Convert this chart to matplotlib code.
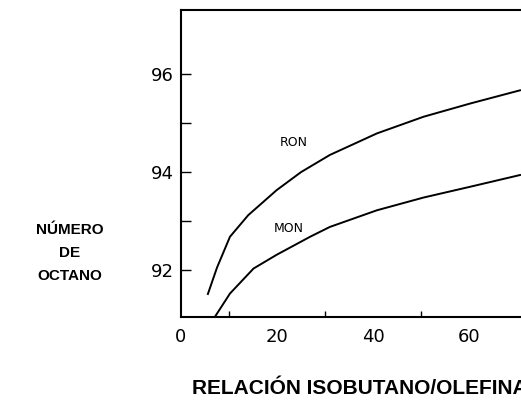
import matplotlib.pyplot as plt

# RON / MON curves
ron_x = [5.6, 7.5, 10.2, 14.0, 19.9, 25.0, 31.0, 40.8, 50.5, 60.2, 70.6]
ron_y = [91.51, 92.05, 92.68, 93.12, 93.63, 94.00, 94.35, 94.79, 95.13, 95.40, 95.67]
mon_x = [7.1, 10.2, 15.1, 19.9, 26.9, 31.0, 40.8, 50.5, 60.2, 70.6]
mon_y = [91.05, 91.52, 92.03, 92.31, 92.68, 92.88, 93.22, 93.48, 93.70, 93.94]

ytick_vals = [92, 93, 94, 95, 96]
ytick_labels = ['92', '', '94', '', '96']
xtick_vals = [0, 20, 40, 60]
xminor_vals = [10, 30, 40, 50, 60]

plt.rcParams['font.family'] = ['Liberation Sans', 'DejaVu Sans']

fig = plt.figure(figsize=(5.21, 4.04), dpi=100)
ax = fig.add_axes([0.3474, 0.2153, 0.6526, 0.7599])

ax.plot(ron_x, ron_y, color='black', lw=1.4)
ax.plot(mon_x, mon_y, color='black', lw=1.4)

ax.text(23.5, 94.6, 'RON', fontsize=9, family='DejaVu Sans', ha='center', va='center')
ax.text(22.5, 92.85, 'MON', fontsize=9, family='DejaVu Sans', ha='center', va='center')

ax.set_xlim(0, 70.8)
ax.set_ylim(91.04, 97.31)

ax.set_yticks(ytick_vals)
ax.set_yticklabels(ytick_labels, family='DejaVu Sans')
ax.set_xticks(xtick_vals)
ax.set_xticklabels([str(v) for v in xtick_vals], family='DejaVu Sans')
ax.set_xticks(xminor_vals, minor=True)
ax.tick_params(axis='y', direction='in', length=7, width=1, pad=5, labelsize=13)
ax.tick_params(axis='x', which='major', length=0, pad=8, labelsize=13)
ax.tick_params(axis='x', which='minor', direction='in', length=4, width=1)

for side in ['left', 'bottom', 'top']:
    ax.spines[side].set_linewidth(1.5)
ax.spines['right'].set_visible(False)

fig.text(70 / 521, 1 - 253 / 404, 'NÚMERO\nDE\nOCTANO', fontsize=11, fontweight='bold',
         ha='center', va='center', linespacing=1.8)
fig.text(192 / 521, 1 - 389 / 404, 'RELACIÓN ISOBUTANO/OLEFINA', fontsize=15,
         fontweight='bold', ha='left', va='center')

fig.savefig('out.png', dpi=100)
